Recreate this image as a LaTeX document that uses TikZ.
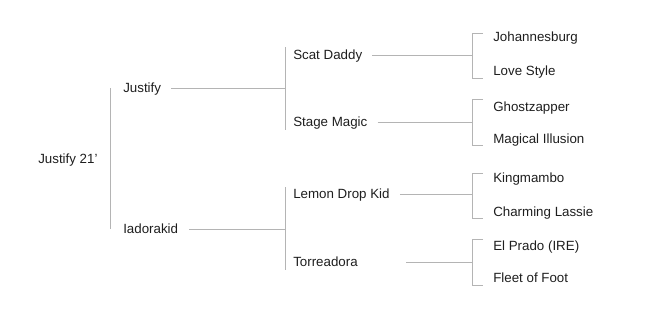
\documentclass[tikz,border=0pt]{standalone}
\usepackage{fontspec}
\setmainfont{Liberation Sans}
\usepackage{tikz}

\definecolor{linegray}{HTML}{B4B4B4}
\definecolor{textgray}{HTML}{1E1E1E}

\begin{document}
\begin{tikzpicture}[x=0.75pt, y=-0.75pt,
		horse/.style={anchor=west, inner sep=0pt, text height=7.1pt, text depth=0pt,
			font=\fontsize{10}{12}\selectfont, text=textgray},
		tree/.style={draw=linegray, line width=0.75pt}]
		\useasboundingbox (0, 0) rectangle (670, 318);
		% generations
		\node [horse] (foal) at (38, 159) {Justify 21'};
		\node [horse] (sire) at (123, 88) {Justify};
		\node [horse] (dam) at (123, 229) {Iadorakid};
		\node [horse] (ss) at (293, 55) {Scat Daddy};
		\node [horse] (sd) at (293, 122) {Stage Magic};
		\node [horse] (ds) at (293, 194) {Lemon Drop Kid};
		\node [horse] (dd) at (293, 262) {Torreadora};
		\node [horse] (sss) at (493, 37) {Johannesburg};
		\node [horse] (ssd) at (493, 71) {Love Style};
		\node [horse] (sds) at (493, 107) {Ghostzapper};
		\node [horse] (sdd) at (493, 139) {Magical Illusion};
		\node [horse] (dss) at (493, 178) {Kingmambo};
		\node [horse] (dsd) at (493, 212) {Charming Lassie};
		\node [horse] (dds) at (493, 246) {El Prado (IRE)};
		\node [horse] (ddd) at (493, 278) {Fleet of Foot};
		% bracket ends
		\coordinate (lvA) at (110, 0);
		\coordinate (sTop) at (285, 47);
		\coordinate (sBot) at (285, 130);
		\coordinate (dTop) at (285, 187);
		\coordinate (dBot) at (285, 270);
		\coordinate (lvC) at (472, 0);
		\coordinate (tick) at (483, 0);
		% lines
		\draw [tree] (sire.west -| lvA) -- (dam.west -| lvA);
		\draw [tree] (sTop) -- (sBot);
		\draw [tree] (dTop) -- (dBot);
		\draw [tree] ([xshift=7.5pt]sire.east) -- (sire.west -| sTop);
		\draw [tree] ([xshift=8pt]dam.east) -- (dam.west -| dTop);
		\draw [tree] ([xshift=7.5pt]ss.east) -- (ss.west -| lvC);
		\draw [tree] ([xshift=7.5pt]sd.east) -- (sd.west -| lvC);
		\draw [tree] ([xshift=7.5pt]ds.east) -- (ds.west -| lvC);
		\draw [tree] ([xshift=36pt]dd.east) -- (dd.west -| lvC);
		\draw [tree] (tick |- 0, 33) -- (lvC |- 0, 33) -- (lvC |- 0, 78) -- (tick |- 0, 78);
		\draw [tree] (tick |- 0, 99) -- (lvC |- 0, 99) -- (lvC |- 0, 145) -- (tick |- 0, 145);
		\draw [tree] (tick |- 0, 173) -- (lvC |- 0, 173) -- (lvC |- 0, 218) -- (tick |- 0, 218);
		\draw [tree] (tick |- 0, 239) -- (lvC |- 0, 239) -- (lvC |- 0, 285) -- (tick |- 0, 285);
	\end{tikzpicture}
\end{document}
